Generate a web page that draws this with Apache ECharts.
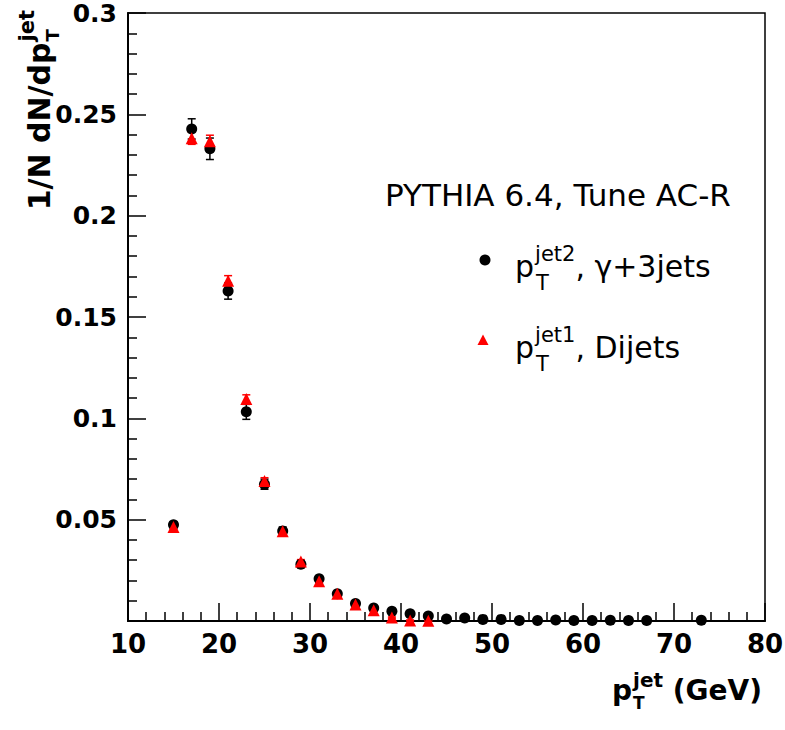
<!DOCTYPE html>
<html lang="en">
<head>
    <meta charset="UTF-8">
    <title>pT jet spectrum</title>
    <style>html, body { margin: 0; padding: 0; background: #fff; }</style>
</head>
<body>
<div id="main" style="width: 785px; height: 730px;"></div>

<script src="https://cdn.jsdelivr.net/npm/echarts@6/dist/echarts.min.js"></script>

<script>
// gamma + 3 jets, pT of jet 2 (black dots)
var ptGamma = [15, 17, 19, 21, 23, 25, 27, 29, 31, 33, 35, 37, 39, 41, 43, 45, 47, 49, 51, 53, 55, 57, 59, 61, 63, 65, 67, 73];
var valGamma = [0.0475, 0.2428, 0.2330, 0.1628, 0.1032, 0.0675, 0.0444, 0.0280, 0.0209, 0.0135, 0.0086, 0.0064, 0.0048, 0.0036,
    0.0025, 0.0010, 0.0015, 0.0008, 0.0008, 0.0003, 0.0003, 0.0005, 0.0003, 0.0003, 0.0004, 0.0003, 0.0003, 0.0004];
var errGamma = [0.0015, 0.0050, 0.0053, 0.0040, 0.0037, 0.0025, 0.0020, 0.0015, 0.0012, 0.0010, 0.0008, 0.0007, 0.0006, 0.0005,
    0.0004, 0.0003, 0.0003, 0.0002, 0.0002, 0.0002, 0.0002, 0.0002, 0.0002, 0.0002, 0.0002, 0.0002, 0.0002, 0.0002];

// dijets, pT of jet 1 (red triangles)
var ptDijet = [15, 17, 19, 21, 23, 25, 27, 29, 31, 33, 35, 37, 39, 41, 43];
var valDijet = [0.0464, 0.2382, 0.2367, 0.1679, 0.1096, 0.0691, 0.0443, 0.0293, 0.0196, 0.0135, 0.0081, 0.0053, 0.0017, 0.0003, 0.0001];
var errDijet = [0.0012, 0.0030, 0.0030, 0.0025, 0.0020, 0.0016, 0.0013, 0.0010, 0.0008, 0.0007, 0.0005, 0.0004, 0.0003, 0.0002, 0.0001];

var FONT = '"DejaVu Sans"';
var measureCtx = document.createElement('canvas').getContext('2d');

function fontOf(size, bold) {
    return (bold ? 'bold ' : 'normal ') + size + 'px ' + FONT;
}
function widthOf(text, size, bold) {
    measureCtx.font = fontOf(size, bold);
    return measureCtx.measureText(text).width;
}

// a line of text with super/subscripts; an array in segs = pieces stacked at the same x
// y = 0 is the baseline of the line
function textRun(segs, bold) {
    var x = 0, children = [];
    segs.forEach(function (seg) {
        var stack = Array.isArray(seg) ? seg : [seg];
        var adv = 0;
        stack.forEach(function (p) {
            var dx = p.dx || 0;
            children.push({
                type: 'text',
                x: x + dx,
                y: (p.dy || 0) - 0.346 * p.size,
                style: {
                    text: p.text, font: fontOf(p.size, bold), fill: '#000',
                    textAlign: 'left', textVerticalAlign: 'middle'
                }
            });
            adv = Math.max(adv, dx + widthOf(p.text, p.size, bold));
        });
        x += adv;
    });
    return {children: children, width: x};
}

function errorBars(xs, ys, errs, color) {
    return {
        type: 'custom',
        silent: true,
        clip: false,
        renderItem: function (params, api) {
            var x = api.value(0), y = api.value(1), e = api.value(2);
            var top = api.coord([x, y + e]), bot = api.coord([x, y - e]);
            var w = 4;
            var ls = {stroke: color, lineWidth: 1.5};
            return {
                type: 'group', children: [
                    {type: 'line', shape: {x1: top[0], y1: top[1], x2: bot[0], y2: bot[1]}, style: ls},
                    {type: 'line', shape: {x1: top[0] - w, y1: top[1], x2: top[0] + w, y2: top[1]}, style: ls},
                    {type: 'line', shape: {x1: bot[0] - w, y1: bot[1], x2: bot[0] + w, y2: bot[1]}, style: ls}
                ]
            };
        },
        encode: {x: 0, y: 1},
        data: xs.map(function (x, i) { return [x, ys[i], errs[i]]; })
    };
}

var xTitle = textRun([
    {text: 'p', size: 28},
    [{text: 'jet', size: 20, dy: -13, dx: 1}, {text: 'T', size: 17, dy: 9, dx: 1}],
    {text: ' (GeV)', size: 28}
], true);
var yTitle = textRun([
    {text: '1/N dN/dp', size: 30},
    [{text: 'jet', size: 21, dy: -16, dx: 1}, {text: 'T', size: 18, dy: 9, dx: 1}]
], true);
var header = textRun([{text: 'PYTHIA 6.4, Tune AC-R', size: 31}], false);
var leg1 = textRun([
    {text: 'p', size: 30},
    [{text: 'jet2', size: 21, dy: -16, dx: 1}, {text: 'T', size: 21, dy: 13.5, dx: 2}],
    {text: ', γ+3jets', size: 30}
], false);
var leg2 = textRun([
    {text: 'p', size: 30},
    [{text: 'jet1', size: 21, dy: -16, dx: 1}, {text: 'T', size: 21, dy: 13.5, dx: 2}],
    {text: ', Dijets', size: 30}
], false);

var axisCommon = {
    type: 'value',
    splitLine: {show: false},
    axisLine: {onZero: false, lineStyle: {color: '#000', width: 2}},
    axisTick: {inside: true, length: 18, lineStyle: {color: '#000', width: 1.5}},
    minorTick: {show: true, splitNumber: 5, length: 9, lineStyle: {color: '#000', width: 1.5}}
};

var myChart = echarts.init(document.getElementById('main'), null, {renderer: 'svg'});

myChart.setOption({
    animation: false,
    backgroundColor: '#fff',
    grid: {
        left: 128, right: 20, top: 13, bottom: 109,
        show: true, borderColor: '#000', borderWidth: 1.5,
        outerBoundsMode: 'none'
    },
    xAxis: Object.assign({}, axisCommon, {
        min: 10, max: 80, interval: 10,
        axisLabel: {
            color: '#000', fontFamily: FONT, fontWeight: 'bold', fontSize: 26, margin: 10,
            showMinLabel: true, showMaxLabel: true
        }
    }),
    yAxis: Object.assign({}, axisCommon, {
        min: 0, max: 0.3, interval: 0.05,
        axisLabel: {
            color: '#000', fontFamily: FONT, fontWeight: 'bold', fontSize: 25, margin: 11,
            formatter: function (v) { return v === 0 ? '' : String(parseFloat(v.toFixed(2))); }
        }
    }),
    series: [
        errorBars(ptGamma, valGamma, errGamma, '#000'),
        {
            name: 'jet2, gamma+3jets', type: 'scatter', clip: false,
            symbol: 'circle', symbolSize: 11,
            itemStyle: {color: '#000', opacity: 1},
            data: ptGamma.map(function (x, i) { return [x, valGamma[i]]; })
        },
        errorBars(ptDijet, valDijet, errDijet, '#f00'),
        {
            name: 'jet1, Dijets', type: 'scatter', clip: false,
            symbol: 'triangle', symbolSize: 12,
            itemStyle: {color: '#f00', opacity: 1},
            data: ptDijet.map(function (x, i) { return [x, valDijet[i]]; })
        }
    ],
    graphic: [
        {type: 'group', x: 762 - xTitle.width, y: 700, children: xTitle.children},
        {type: 'group', x: 50, y: 10 + yTitle.width, rotation: Math.PI / 2, children: yTitle.children},
        {type: 'group', x: 385, y: 205.5, children: header.children},
        {type: 'circle', shape: {cx: 485, cy: 260, r: 5.5}, style: {fill: '#000'}},
        {type: 'group', x: 515, y: 277, children: leg1.children},
        {type: 'polygon', shape: {points: [[483, 334.5], [477.5, 345], [488.5, 345]]}, style: {fill: '#f00'}},
        {type: 'group', x: 515, y: 358, children: leg2.children}
    ]
});
</script>
</body>
</html>
